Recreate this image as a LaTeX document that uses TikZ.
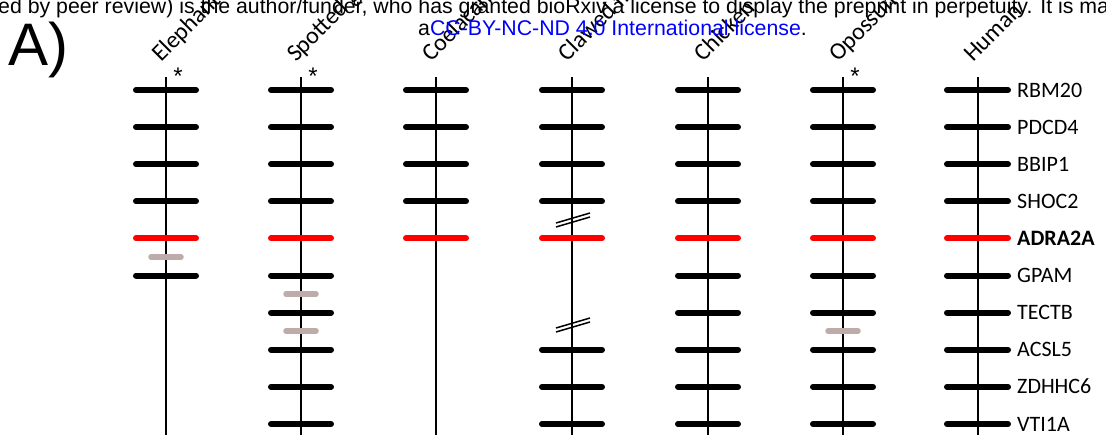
\documentclass[tikz,border=0pt]{standalone}
\usepackage{fontspec}
\setmainfont{Carlito}
\newfontfamily\arialfont{Liberation Sans}
\definecolor{graybar}{RGB}{190,172,170}
\definecolor{linkblue}{RGB}{0,0,255}
\begin{document}
\begin{tikzpicture}[x=1pt,y=-1pt,
  axis/.style={line width=2pt,black},
  bar/.style={line width=6pt,line cap=round,black},
  redbar/.style={line width=6pt,line cap=round,red},
  minorbar/.style={line width=5.5pt,line cap=round,graybar},
  brk/.style={line width=1.5pt,black},
  species/.style={rotate=45,anchor=base west,inner sep=0pt,font=\fontsize{24}{28}\selectfont},
  gene/.style={anchor=base west,inner sep=0pt,font=\fontsize{22}{26}\selectfont},
  star/.style={inner sep=0pt,font=\arialfont\fontsize{24}{28}\selectfont},
  wm/.style={anchor=base west,inner sep=0pt,font=\arialfont\fontsize{21.3}{24}\selectfont}]
\useasboundingbox (0,0) rectangle (1106,434);
\clip (0,0) rectangle (1106,434);
% axes and species labels
\foreach \x/\nm/\lab in {166/el/Elephant shark,301/sp/Spotted gar,436/co/Coelacanth,572/cf/Clawed frog,708/ch/Chicken,843/op/Opossum,978/hu/Human}{
  \coordinate (\nm-top) at (\x,77);
  \coordinate (\nm-bot) at (\x,440);
  \draw[axis] (\nm-top) -- (\nm-bot);
  \node[species] (\nm-lab) at (\x-5,63) {\lab};
}
% asterisks
\foreach \x/\nm in {178/el,313/sp,855/op}{
  \node[star] (\nm-star) at (\x,76) {*};
}
% Elephant shark
\foreach \y in {90,127.1,164.2,201.3,275.5} \draw[bar] (136,\y) -- (196,\y);
\draw[redbar] (136,238.4) -- (196,238.4);
\draw[minorbar] (151,257) -- (181,257);
% Spotted gar
\foreach \y in {90,127.1,164.2,201.3,275.5,312.6,349.7,386.8,424} \draw[bar] (271,\y) -- (331,\y);
\draw[redbar] (271,238.4) -- (331,238.4);
\draw[minorbar] (286,294) -- (316,294);
\draw[minorbar] (286,331) -- (316,331);
% Coelacanth
\foreach \y in {90,127.1,164.2,201.3} \draw[bar] (406,\y) -- (466,\y);
\draw[redbar] (406,238.4) -- (466,238.4);
% Clawed frog
\foreach \y in {90,127.1,164.2,201.3,349.7,386.8,424} \draw[bar] (542,\y) -- (602,\y);
\draw[redbar] (542,238.4) -- (602,238.4);
\draw[brk] (556,223) -- (590,213);
\draw[brk] (556,227) -- (590,217);
\draw[brk] (556,328) -- (590,318);
\draw[brk] (556,332) -- (590,322);
% Chicken
\foreach \y in {90,127.1,164.2,201.3,275.5,312.6,349.7,386.8,424} \draw[bar] (678,\y) -- (738,\y);
\draw[redbar] (678,238.4) -- (738,238.4);
% Opossum
\foreach \y in {90,127.1,164.2,201.3,275.5,312.6,349.7,386.8,424} \draw[bar] (813,\y) -- (873,\y);
\draw[redbar] (813,238.4) -- (873,238.4);
\draw[minorbar] (828,331) -- (858,331);
% Human
\foreach \y in {90,127.1,164.2,201.3,275.5,312.6,349.7,386.8,424} \draw[bar] (947,\y) -- (1008,\y);
\draw[redbar] (947,238.4) -- (1008,238.4);
\foreach \y/\g/\nm in {90/RBM20/g1,127.1/PDCD4/g2,164.2/BBIP1/g3,201.3/SHOC2/g4,238.4/{\textbf{ADRA2A}}/g5,275.5/GPAM/g6,312.6/TECTB/g7,349.7/ACSL5/g8,386.8/ZDHHC6/g9,424/VTI1A/g10}{
  \node[gene] (\nm) at (1017,\y+7) {\g};
}
% panel letter
\node[anchor=base west,inner sep=0pt,font=\arialfont\fontsize{60}{66}\selectfont] (panel) at (8,65) {A)};
% watermark
\node[wm] (wm1) at (-2,13) {ed by peer review) is the author/funder, who has granted bioRxiv a license to display the preprint in perpetuity. It is made available under};
\node[wm] (wm2) at (418,35) {a\textcolor{linkblue}{CC-BY-NC-ND 4.0 International license}.};
\end{tikzpicture}
\end{document}
